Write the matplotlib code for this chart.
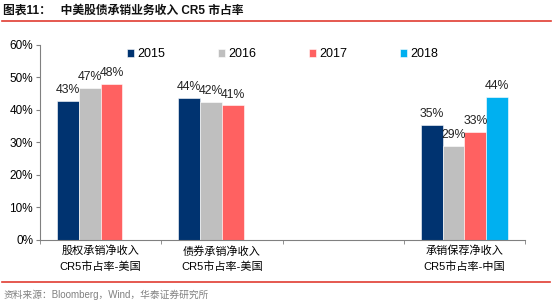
import numpy as np
import matplotlib
matplotlib.use('Agg')
import matplotlib.pyplot as plt
from matplotlib.lines import Line2D

plt.rcParams['font.family'] = ['Liberation Sans', 'Noto Sans CJK SC', 'DejaVu Sans']

# data (share, %)
categories = ['股权承销净收入\nCR5市占率-美国', '债券承销净收入\nCR5市占率-美国', '', '承销保荐净收入\nCR5市占率-中国']
years = ['2015', '2016', '2017', '2018']
v2015 = [42.9, 43.8, np.nan, 35.4]
v2016 = [46.9, 42.4, np.nan, 29.0]
v2017 = [48.0, 41.4, np.nan, 33.3]
v2018 = [np.nan, np.nan, np.nan, 44.1]
colors = ['#003370', '#bfbfbf', '#ff6161', '#00b0f0']

fig = plt.figure(figsize=(5.54, 3.03), dpi=100)
ax = fig.add_axes([0.0722, 0.208, 0.8755, 0.6435])

x = np.arange(len(categories))
w = 0.18
series = [v2015, v2016, v2017, v2018]
for i, vals in enumerate(series):
    vals = np.array(vals, dtype=float)
    pos = x + (i - 1.5) * w
    ax.bar(pos, vals, width=w, color=colors[i], edgecolor='white', linewidth=0.4,
           label=years[i], zorder=2)
    for p, v in zip(pos, vals):
        if not np.isnan(v):
            ax.annotate('%.0f%%' % v, (p, v), xytext=(0, 3.5), textcoords='offset points',
                        ha='center', va='bottom', fontsize=8.8, color='#222222')

ax.set_ylim(0, 60)
ax.set_xlim(-0.5, 3.5)
ax.set_yticks(np.arange(0, 61, 10))
ax.set_yticklabels(['%d%%' % t for t in range(0, 61, 10)], fontsize=8.5)
ax.set_xticks(x)
ax.set_xticklabels(categories, fontsize=8, linespacing=1.6)
ax.set_xticks(np.arange(-0.5, 4, 1), minor=True)
ax.tick_params(axis='x', which='major', length=0, pad=4)
ax.tick_params(axis='x', which='minor', length=3, color='#808080')
ax.tick_params(axis='y', length=3, color='#808080', pad=2)
for s in ['top', 'right']:
    ax.spines[s].set_visible(False)
for s in ['left', 'bottom']:
    ax.spines[s].set_color('#808080')
    ax.spines[s].set_linewidth(0.8)

ax.legend(loc='upper center', bbox_to_anchor=(0.5, 1.04), ncol=4, frameon=False,
          fontsize=9, handlelength=0.6, handleheight=0.6, handletextpad=0.25,
          columnspacing=4.2)

# title, separators, source
fig.text(0.006, 0.965, '图表11：   中美股债承销业务收入 CR5 市占率', fontsize=8.5,
         fontweight='bold', ha='left', va='center', color='#111111')
fig.add_artist(Line2D([0.004, 0.995], [0.932, 0.932], color='#e03c31', linewidth=1.2))
fig.add_artist(Line2D([0.004, 0.993], [0.069, 0.069], color='#e03c31', linewidth=1.2))
fig.text(0.006, 0.027, '资料来源：Bloomberg，Wind，华泰证券研究所', fontsize=7,
         ha='left', va='center', color='#808080')

fig.savefig('out.png', dpi=100)
